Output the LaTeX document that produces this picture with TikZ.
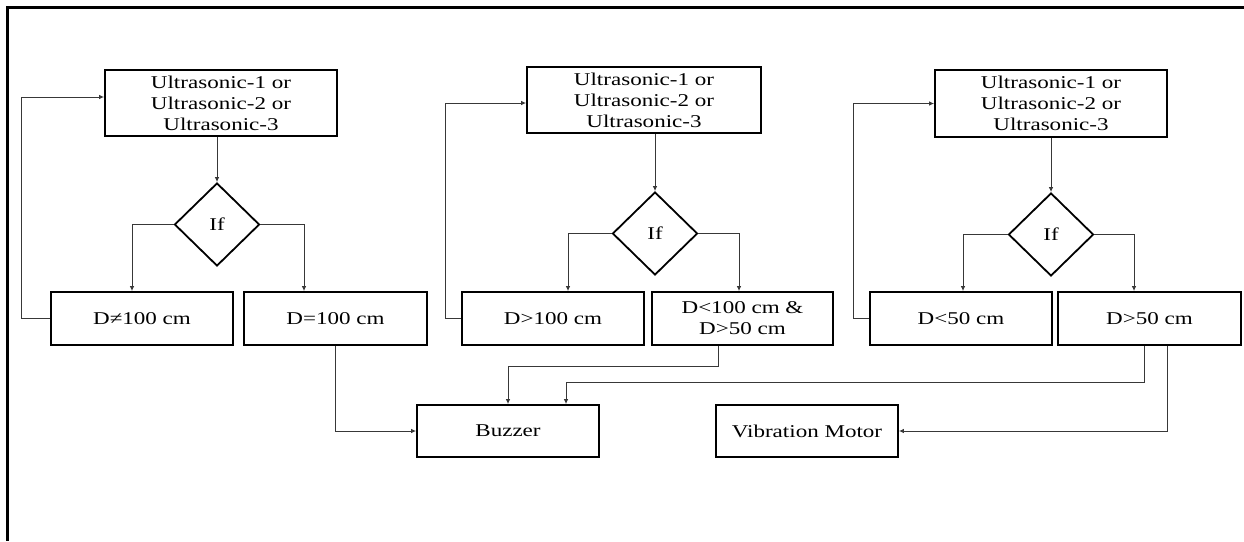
\documentclass[tikz,border=0pt]{standalone}
\usepackage{fontspec}
\setmainfont{Liberation Serif}[FakeStretch=1.28]
\usetikzlibrary{shapes.geometric,arrows.meta}
\begin{document}
\begin{tikzpicture}[x=1pt,y=-1pt,
 txt/.style={font=\fontsize{18}{21}\selectfont},
 blk/.style={txt,draw,line width=1.8pt,inner sep=0pt,align=center},
 dia/.style={txt,draw,diamond,line width=1.8pt,inner sep=0pt,minimum width=85pt,minimum height=83pt},
 conn/.style={line width=0.9pt,draw=black!78},
 arr/.style={conn,-{Latex[length=5pt,width=4.5pt]}},
 frame/.style={line width=3pt,draw=black}]
\useasboundingbox (0,0) rectangle (1244,541);
% frame
\draw[frame] (1244,7.5) -- (6,7.5);
\draw[frame] (7.5,6) -- (7.5,541);
% top boxes
\node[blk,minimum width=232pt,minimum height=66pt] (T1) at (221,103) {Ultrasonic-1 or\\Ultrasonic-2 or\\Ultrasonic-3};
\node[blk,minimum width=234pt,minimum height=66pt] (T2) at (644,100) {Ultrasonic-1 or\\Ultrasonic-2 or\\Ultrasonic-3};
\node[blk,minimum width=232pt,minimum height=67pt] (T3) at (1051,103.5) {Ultrasonic-1 or\\Ultrasonic-2 or\\Ultrasonic-3};
% diamonds
\node[dia] (D1) at (217,224.5) {If};
\node[dia] (D2) at (655,233.5) {If};
\node[dia] (D3) at (1051,234.5) {If};
% result boxes
\node[blk,minimum width=182pt,minimum height=53pt] (Dne) at (142,318.5) {D≠100 cm};
\node[blk,minimum width=183pt,minimum height=53pt] (Deq) at (335.5,318.5) {D=100 cm};
\node[blk,minimum width=182pt,minimum height=53pt] (Dgt) at (553,318.5) {D>100 cm};
\node[blk,minimum width=181pt,minimum height=53pt] (Dmid) at (742.5,318.5) {D<100 cm \&\\D>50 cm};
\node[blk,minimum width=182pt,minimum height=53pt] (Dlt) at (961,318.5) {D<50 cm};
\node[blk,minimum width=183pt,minimum height=53pt] (Dgf) at (1149.5,318.5) {D>50 cm};
% outputs
\node[blk,minimum width=182pt,minimum height=52pt] (Buz) at (508,431) {Buzzer};
\node[blk,minimum width=182pt,minimum height=52pt] (VM) at (807,431) {Vibration Motor};
% top to diamond
\draw[arr] (T1.south -| D1.north) -- (D1.north);
\draw[arr] (T2.south -| D2.north) -- (D2.north);
\draw[arr] (T3.south -| D3.north) -- (D3.north);
% diamond branches
\draw[arr] (D1.west) -| ([xshift=-10pt]Dne.north);
\draw[arr] (D1.east) -| ([xshift=-31.5pt]Deq.north);
\draw[arr] (D2.west) -| ([xshift=15pt]Dgt.north);
\draw[arr] (D2.east) -| ([xshift=-3.5pt]Dmid.north);
\draw[arr] (D3.west) -| ([xshift=2pt]Dlt.north);
\draw[arr] (D3.east) -| ([xshift=-15.5pt]Dgf.north);
% loops
\draw[arr] (Dne.west) -- ++(-29,0) |- ([yshift=6pt]T1.west);
\draw[arr] (Dgt.west) -- ++(-16,0) |- ([yshift=-3pt]T2.west);
\draw[arr] (Dlt.west) -- ++(-16,0) |- (T3.west);
% to outputs
\draw[arr] (Deq.south) |- (Buz.west);
\draw[arr] ([xshift=-24.5pt]Dmid.south) -- ++(0,21) -| (Buz.north);
\draw[arr] ([xshift=-5.5pt]Dgf.south) -- ++(0,37) -| ([xshift=58pt]Buz.north);
\draw[arr] ([xshift=17.5pt]Dgf.south) |- (VM.east);
\end{tikzpicture}
\end{document}
